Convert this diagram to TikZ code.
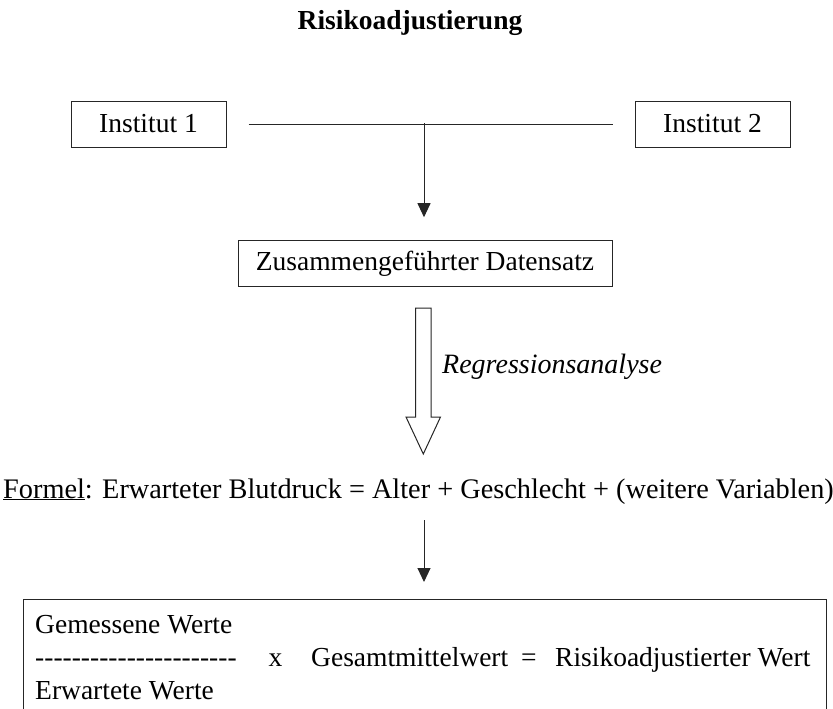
\documentclass[tikz,border=0pt]{standalone}
\usepackage{fontspec}
\setmainfont{Liberation Serif}
\usetikzlibrary{arrows.meta}
\newcommand\hyph{-\kern0pt}
\begin{document}
\begin{tikzpicture}[x=1pt,y=-1pt,
  every node/.style={font=\fontsize{27.5}{33}\selectfont, inner sep=0pt},
  boxnode/.style={draw=black!85, line width=1pt, minimum height=46pt},
  line/.style={draw=black!85, line width=1pt},
  arr/.style={line, -{Triangle[length=14pt,width=13pt]}},
  txt/.style={anchor=base west}]
\useasboundingbox (0,0) rectangle (833,709);
\node[anchor=base, font=\fontsize{27.5}{33}\selectfont\bfseries] (title) at (410,29.5) {Risikoadjustierung};
\node[boxnode, minimum width=155pt] (i1) at (148.5,124) {Institut 1};
\node[boxnode, minimum width=155pt] (i2) at (712.5,124) {Institut 2};
\node[boxnode, minimum width=374pt] (zus) at (425,263.7) {Zusammengeführter Datensatz};
\draw[line, shorten <=22pt, shorten >=22pt] (i1.east) -- (i2.west);
\coordinate (j) at (424,123);
\draw[arr, shorten >=23pt] (j) -- (j |- zus.north);
% hollow arrow
\draw[line, fill=white] (415.5,308) -- (431,308) -- (431,417) -- (440.5,417) -- (423.3,454) -- (406,417) -- (415.5,417) -- cycle;
\node[txt, font=\fontsize{28}{33}\selectfont\itshape] (reg) at (442,373) {Regressionsanalyse};
\node[txt, font=\fontsize{28.3}{34}\selectfont] (formel) at (3,498) {\underline{Formel}: Erwarteter Blutdruck = Alter + Geschlecht + (weitere Variablen)};
\begin{scope}
\clip (0,0) rectangle (833,709);
\node[draw=black!85, line width=1pt, anchor=north west, minimum width=803pt, minimum height=140pt] (res) at (22.7,599) {};
\end{scope}
\coordinate (f) at (424,520);
\draw[arr] (f) -- (f |- 0,582);
\node[txt] (gem) at (35,633) {Gemessene Werte};
\node[txt] (dash) at (35,666) {\hyph\hyph\hyph\hyph\hyph\hyph\hyph\hyph\hyph\hyph\hyph\hyph\hyph\hyph\hyph\hyph\hyph\hyph\hyph\hyph\hyph\hyph};
\node[txt] (mal) at (268.5,666) {x};
\node[txt] (gmw) at (311,666) {Gesamtmittelwert};
\node[txt] (eq) at (521,666) {=};
\node[txt] (raw) at (555,666) {Risikoadjustierter Wert};
\node[txt] (erw) at (35,699) {Erwartete Werte};
\end{tikzpicture}
\end{document}
